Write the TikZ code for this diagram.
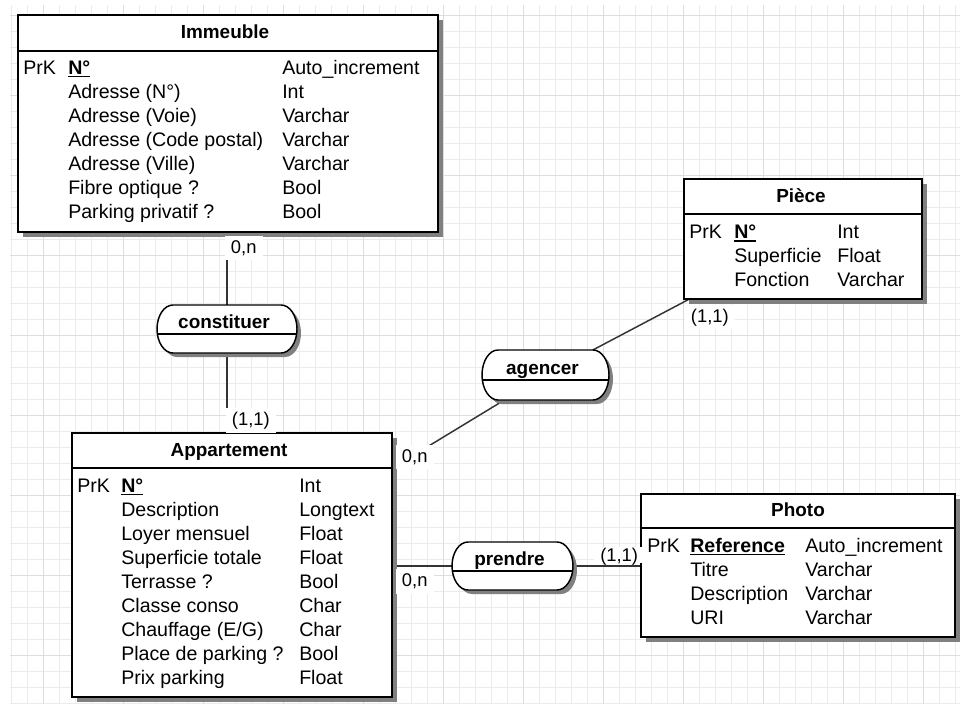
\documentclass[tikz,border=0pt]{standalone}
\usepackage{fontspec}
\setmainfont{Liberation Sans}
\usetikzlibrary{shadows}
\pgfdeclarelayer{gridlayer}
\pgfdeclarelayer{connlayer}
\pgfsetlayers{gridlayer,connlayer,main}
\newcommand\myrowfont{\fontsize{14.7pt}{17pt}\selectfont}
\newcommand\myttlfont{\fontsize{14.2pt}{17pt}\selectfont\bfseries}
\newcommand\mycardfont{\fontsize{13.8pt}{16pt}\selectfont}
\newcommand\keyul[1]{\setbox0\hbox{\bfseries #1}\rlap{\rule[-2.6pt]{\wd0}{1.2pt}}\box0}
\tikzset{
  txt/.style={anchor=base west, inner sep=0, font=\myrowfont},
  ttl/.style={anchor=base, inner sep=0, font=\myttlfont},
  ent/.style={draw=black, fill=white, line width=1.5pt, inner sep=0, outer sep=0,
    drop shadow={shadow xshift=3.75pt, shadow yshift=-3.75pt, fill=black!50, opacity=1}},
  hdr/.style={draw=black, line width=1.5pt},
  asb/.style={draw=black, fill=white, line width=1.1pt},
  conn/.style={draw=black!80, line width=1.1pt},
  card/.style={anchor=base west, fill=white, inner xsep=4.5pt, inner ysep=3pt,
    text height=10pt, text depth=2.5pt, font=\mycardfont},
  gridminor/.style={draw=black!8, line width=0.75pt},
  gridmajor/.style={draw=black!13, line width=0.75pt},
}
% name, cx, cy, half width, half height, title
\newcommand\assoc[6]{%
  \fill[black!50, shift={(4,4)}] (#2-#4+16,#3-#5) -- (#2+#4-16,#3-#5)
    arc[start angle=-90, end angle=90, x radius=16, y radius=#5]
    -- (#2-#4+16,#3+#5)
    arc[start angle=90, end angle=270, x radius=16, y radius=#5] -- cycle;
  \path[asb] (#2-#4+16,#3-#5) -- (#2+#4-16,#3-#5)
    arc[start angle=-90, end angle=90, x radius=16, y radius=#5]
    -- (#2-#4+16,#3+#5)
    arc[start angle=90, end angle=270, x radius=16, y radius=#5] -- cycle;
  \draw[hdr] (#2-#4+0.4,#3+5) -- (#2+#4-0.4,#3+5);
  \node[minimum width=1.5pt*#4, minimum height=1.5pt*#5, inner sep=0, outer sep=0] (#1) at (#2,#3) {};
  \node[ttl] (#1-t) at (#2-3,#3-1) {#6};
}
\begin{document}
\begin{tikzpicture}[x=0.75pt, y=-0.75pt]
\useasboundingbox (0,0) rectangle (960,704);
\begin{pgfonlayer}{gridlayer}
  \fill[white] (0,0) rectangle (960,704);
  \foreach \i in {0,...,59} \draw[gridminor] (11.5+16*\i,5) -- (11.5+16*\i,704);
  \foreach \i in {0,...,43} \draw[gridminor] (10,15+16*\i) -- (960,15+16*\i);
  \foreach \i in {0,...,11} \draw[gridmajor] (43.5+80*\i,5) -- (43.5+80*\i,704);
  \foreach \i in {0,...,8} \draw[gridmajor] (10,15+80*\i) -- (960,15+80*\i);
\end{pgfonlayer}

% ---------- Immeuble ----------
\node[ent, minimum width=315pt, minimum height=162.75pt] (imm) at (228,123.5) {};
\draw[hdr] (imm.north west) ++(0,36) -- ++(420,0);
\node[ttl] (imm-t) at (225,38.5) {Immeuble};
\node[txt] (imm-p) at (23,74) {PrK};
\node[txt] (imm-1a) at (68,74) {\keyul{N°}};
\node[txt] (imm-1b) at (282,74) {Auto\_increment};
\node[txt] (imm-2a) at (68,98) {Adresse (N°)};
\node[txt] (imm-2b) at (282,98) {Int};
\node[txt] (imm-3a) at (68,122) {Adresse (Voie)};
\node[txt] (imm-3b) at (282,122) {Varchar};
\node[txt] (imm-4a) at (68,146) {Adresse (Code postal)};
\node[txt] (imm-4b) at (282,146) {Varchar};
\node[txt] (imm-5a) at (68,170) {Adresse (Ville)};
\node[txt] (imm-5b) at (282,170) {Varchar};
\node[txt] (imm-6a) at (68,194) {Fibre optique ?};
\node[txt] (imm-6b) at (282,194) {Bool};
\node[txt] (imm-7a) at (68,218) {Parking privatif ?};
\node[txt] (imm-7b) at (282,218) {Bool};

% ---------- Pièce ----------
\node[ent, minimum width=178.5pt, minimum height=90pt] (piece) at (803,239) {};
\draw[hdr] (piece.north west) ++(0,35) -- ++(238,0);
\node[ttl] (piece-t) at (801,202) {Pièce};
\node[txt] (piece-p) at (689,238.5) {PrK};
\node[txt] (piece-1a) at (734,238.5) {\keyul{N°}};
\node[txt] (piece-1b) at (837,238.5) {Int};
\node[txt] (piece-2a) at (734,262.5) {Superficie};
\node[txt] (piece-2b) at (837,262.5) {Float};
\node[txt] (piece-3a) at (734,286.5) {Fonction};
\node[txt] (piece-3b) at (837,286.5) {Varchar};

% ---------- Appartement ----------
\node[ent, minimum width=240pt, minimum height=198pt] (app) at (232,565) {};
\draw[hdr] (app.north west) ++(0,35) -- ++(320,0);
\node[ttl] (app-t) at (229,456) {Appartement};
\node[txt] (app-p) at (77,492) {PrK};
\node[txt] (app-1a) at (121,492) {\keyul{N°}};
\node[txt] (app-1b) at (299,492) {Int};
\node[txt] (app-2a) at (121,516) {Description};
\node[txt] (app-2b) at (299,516) {Longtext};
\node[txt] (app-3a) at (121,540) {Loyer mensuel};
\node[txt] (app-3b) at (299,540) {Float};
\node[txt] (app-4a) at (121,564) {Superficie totale};
\node[txt] (app-4b) at (299,564) {Float};
\node[txt] (app-5a) at (121,588) {Terrasse ?};
\node[txt] (app-5b) at (299,588) {Bool};
\node[txt] (app-6a) at (121,612) {Classe conso};
\node[txt] (app-6b) at (299,612) {Char};
\node[txt] (app-7a) at (121,636) {Chauffage (E/G)};
\node[txt] (app-7b) at (299,636) {Char};
\node[txt] (app-8a) at (121,660) {Place de parking ?};
\node[txt] (app-8b) at (299,660) {Bool};
\node[txt] (app-9a) at (121,684) {Prix parking};
\node[txt] (app-9b) at (299,684) {Float};

% ---------- Photo ----------
\node[ent, minimum width=235.5pt, minimum height=107.25pt] (photo) at (798,565.5) {};
\draw[hdr] (photo.north west) ++(0,34) -- ++(314,0);
\node[ttl] (photo-t) at (798,516.5) {Photo};
\node[txt] (photo-p) at (647,552) {PrK};
\node[txt] (photo-1a) at (690,552) {\keyul{Reference}};
\node[txt] (photo-1b) at (805,552) {Auto\_increment};
\node[txt] (photo-2a) at (690,576) {Titre};
\node[txt] (photo-2b) at (805,576) {Varchar};
\node[txt] (photo-3a) at (690,600) {Description};
\node[txt] (photo-3b) at (805,600) {Varchar};
\node[txt] (photo-4a) at (690,624) {URI};
\node[txt] (photo-4b) at (805,624) {Varchar};

% ---------- Associations ----------
\assoc{cons}{227}{329}{70}{24}{constituer}
\assoc{agen}{545.5}{375}{63.5}{25}{agencer}
\assoc{pren}{512.5}{566}{60.5}{24}{prendre}

% ---------- Connectors ----------
\begin{pgfonlayer}{connlayer}
  \draw[conn] (cons.north) -- (cons.north |- imm.south);
  \draw[conn] (cons.south) -- (cons.south |- app.north);
  \draw[conn] (agen) -- (piece);
  \draw[conn] (agen) -- (app);
  \draw[conn] (pren.west) -- (pren.west -| app.east);
  \draw[conn] (pren.east) -- (pren.east -| photo.west);
\end{pgfonlayer}

% ---------- Cardinalities ----------
\node[card] (c1) at (224.7,253) {0,n};
\node[card] (c2) at (225.7,425.5) {(1,1)};
\node[card] (c3) at (684.7,322) {(1,1)};
\node[card] (c4) at (395.7,462) {0,n};
\node[card] (c5) at (395.7,586.5) {0,n};
\node[card, text depth=0pt, inner ysep=1pt] (c6) at (594,561.7) {(1,1)};
\end{tikzpicture}
\end{document}
